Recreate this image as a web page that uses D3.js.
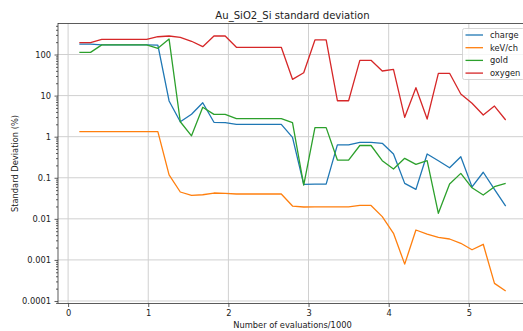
<!DOCTYPE html>
<html><head><meta charset="utf-8">
<script src="https://cdn.jsdelivr.net/npm/d3@7"></script>
<style>
body{margin:0;background:#fff;}
svg{display:block;font-family:"DejaVu Sans",sans-serif;}
</style></head>
<body>
<svg id="chart" width="523" height="331"></svg>
<script>
const evals = [0.14,0.28,0.42,0.56,0.70,0.84,0.98,1.12,1.26,1.40,1.54,1.68,1.82,1.96,2.10,2.24,2.38,2.52,2.66,2.80,2.94,3.08,3.22,3.36,3.50,3.64,3.78,3.92,4.06,4.20,4.34,4.48,4.62,4.76,4.90,5.04,5.18,5.32,5.46];
const charge = [180,180,172,172,172,172,172,170,7.4,2.31,3.5,6.7,2.24,2.2,2.0,2.0,2.0,2.0,2.0,0.96,0.069,0.07,0.07,0.63,0.63,0.73,0.73,0.69,0.38,0.073,0.052,0.38,0.26,0.175,0.325,0.06,0.136,0.052,0.0205];
const kevch = [1.33,1.33,1.33,1.33,1.33,1.33,1.33,1.33,0.117,0.045,0.0374,0.0386,0.0425,0.0418,0.0402,0.0402,0.0402,0.0402,0.0402,0.0205,0.0194,0.0195,0.0195,0.0195,0.0196,0.0212,0.0212,0.0113,0.00444,0.00079,0.00535,0.00427,0.00355,0.00323,0.00254,0.00177,0.0024,0.000269,0.000175];
const gold = [113,113,172,172,172,172,172,142,238,2.31,1.05,5.2,3.5,3.5,2.74,2.74,2.74,2.74,2.74,2.19,0.066,1.66,1.66,0.27,0.27,0.61,0.61,0.26,0.163,0.297,0.212,0.26,0.0136,0.0705,0.128,0.057,0.038,0.0605,0.073];
const oxygen = [194,194,234,234,234,234,234,271,282,262,210,155,282,282,150,150,150,150,150,24.9,36,226,226,7.5,7.5,72.3,72.3,39.7,43.6,2.96,15.6,2.69,34.9,34.9,10.9,6.5,3.37,5.57,2.55];
const seriesNames = ["charge","keV/ch","gold","oxygen"];
const seriesColors = ["#1f77b4","#ff7f0e","#2ca02c","#d62728"];
const xTicks = [0,1,2,3,4,5];
const yTicks = [1e2,1e1,1,0.1,0.01,0.001,0.0001];
const yTickLabels = ["100","10","1","0.1","0.01","0.001","0.0001"];
const title = "Au_SiO2_Si standard deviation";
const xLabel = "Number of evaluations/1000";
const yLabel = "Standard Deviation (%)";

const allSeries = [charge,kevch,gold,oxygen];
const L=58, R=527, T=23.5, B=303.5;
const svg = d3.select("#chart");
const x = d3.scaleLinear().domain([-0.126,5.726]).range([L,R]);
const y = d3.scaleLog().domain([Math.pow(10,-4.061),Math.pow(10,2.755)]).range([B,T]);

// grid
const g = svg.append("g");
g.selectAll(".vg").data(xTicks).enter().append("line")
 .attr("x1",d=>x(d)).attr("x2",d=>x(d)).attr("y1",T).attr("y2",B)
 .attr("stroke","#d0d0d0").attr("stroke-width",1);
g.selectAll(".hg").data(yTicks).enter().append("line")
 .attr("y1",d=>y(d)).attr("y2",d=>y(d)).attr("x1",L).attr("x2",R)
 .attr("stroke","#d0d0d0").attr("stroke-width",1);

// lines
const line = d3.line().x((d,i)=>x(evals[i])).y(d=>y(d));
allSeries.forEach((s,i)=>{
  svg.append("path").datum(s).attr("d",line).attr("fill","none")
   .attr("stroke",seriesColors[i]).attr("stroke-width",1.3).attr("stroke-linejoin","round");
});

// axes
const xAxis = d3.axisBottom(x).tickValues(xTicks).tickSize(3.5).tickPadding(3.5).tickFormat(d3.format("d"));
const xg = svg.append("g").attr("transform",`translate(0,${B})`).call(xAxis);
const minor = [];
for(let e=-5;e<=2;e++) for(let m=2;m<=9;m++){const v=m*Math.pow(10,e); if(v>=y.domain()[0]&&v<=y.domain()[1]) minor.push(v);}
const ygMinor = svg.append("g").attr("transform",`translate(${L},0)`).call(d3.axisLeft(y).tickValues(minor).tickSize(2).tickFormat(""));
const ygMajor = svg.append("g").attr("transform",`translate(${L},0)`).call(d3.axisLeft(y).tickValues(yTicks).tickSize(3.5).tickPadding(3.5).tickFormat((d,i)=>yTickLabels[i]));
[xg,ygMinor,ygMajor].forEach(a=>{
  a.selectAll("path").remove();
  a.selectAll("line").attr("stroke","#333").attr("stroke-width",0.8);
  a.selectAll("text").attr("font-size","8.3px").attr("fill","#222").attr("font-family","DejaVu Sans");
});
// spines
svg.append("rect").attr("x",L).attr("y",T).attr("width",R-L).attr("height",B-T)
 .attr("fill","none").attr("stroke","#333").attr("stroke-width",0.8);

// title and labels
svg.append("text").attr("x",(L+R)/2).attr("y",18.5).attr("text-anchor","middle")
 .attr("font-size","10.1px").attr("fill","#222").text(title);
svg.append("text").attr("x",(L+R)/2).attr("y",327.5).attr("text-anchor","middle")
 .attr("font-size","8.3px").attr("fill","#222").text(xLabel);
svg.append("text").attr("transform",`translate(18,${(T+B)/2}) rotate(-90)`).attr("text-anchor","middle")
 .attr("font-size","8.3px").attr("fill","#222").text(yLabel);

// legend
const lg = svg.append("g");
lg.append("rect").attr("x",462.5).attr("y",28.5).attr("width",62).attr("height",51).attr("rx",2)
 .attr("fill","#fff").attr("fill-opacity",0.8).attr("stroke","#cccccc").attr("stroke-width",0.8);
seriesNames.forEach((n,i)=>{
  const yy = 35 + i*12.7;
  lg.append("line").attr("x1",465.5).attr("x2",483).attr("y1",yy).attr("y2",yy)
   .attr("stroke",seriesColors[i]).attr("stroke-width",1.3);
  lg.append("text").attr("x",490).attr("y",yy+3).attr("font-size","8.3px").attr("fill","#222").text(n);
});
</script>
</body></html>
